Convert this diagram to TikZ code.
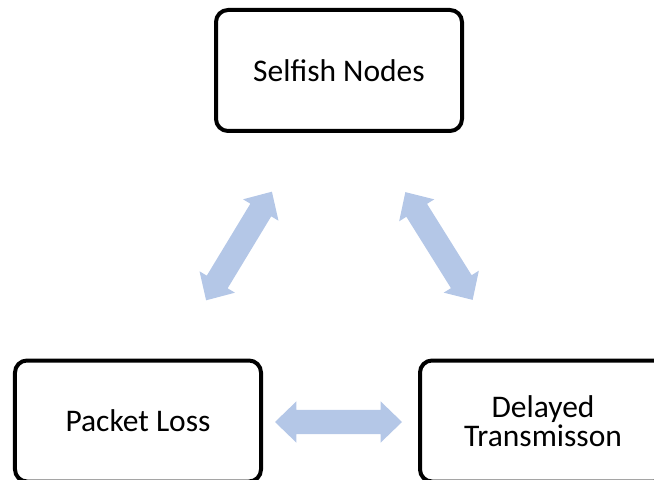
\documentclass[tikz,border=0pt]{standalone}
\usepackage{fontspec}
\setmainfont{Carlito}
\usetikzlibrary{shapes.arrows}
\definecolor{arrowblue}{RGB}{180,199,231}
\tikzset{
  stage/.style={draw=black, line width=4bp, rounded corners=12bp, fill=white,
    minimum width=246bp, minimum height=121bp, inner sep=0pt, align=center,
    font=\fontsize{31.5bp}{29bp}\selectfont},
  link/.style={double arrow, fill=arrowblue, draw=none,
    text height=0pt, text depth=0pt, inner xsep=0pt, inner ysep=12bp,
    double arrow head extend=8.5bp, double arrow tip angle=88,
    minimum height=127bp}
}
\begin{document}
\begin{tikzpicture}[x=1bp, y=-1bp]
  \useasboundingbox (0,0) rectangle (654,480);
  \begin{scope}
    \clip (0,0) rectangle (654,480);
    % the three stages
    \node[stage] (selfish) at (339,70.5) {Selfish Nodes};
    \node[stage] (loss) at (138,421) {Packet Loss};
    \node[stage] (delay) at (543,421) {Delayed\\Transmisson};
    % block arrows between the stages
    \node[link, rotate=58.8] (a1) at (239,246) {};
    \node[link, rotate=-58] (a2) at (439,246) {};
    \node[link] (a3) at (338.5,422) {};
  \end{scope}
\end{tikzpicture}
\end{document}
